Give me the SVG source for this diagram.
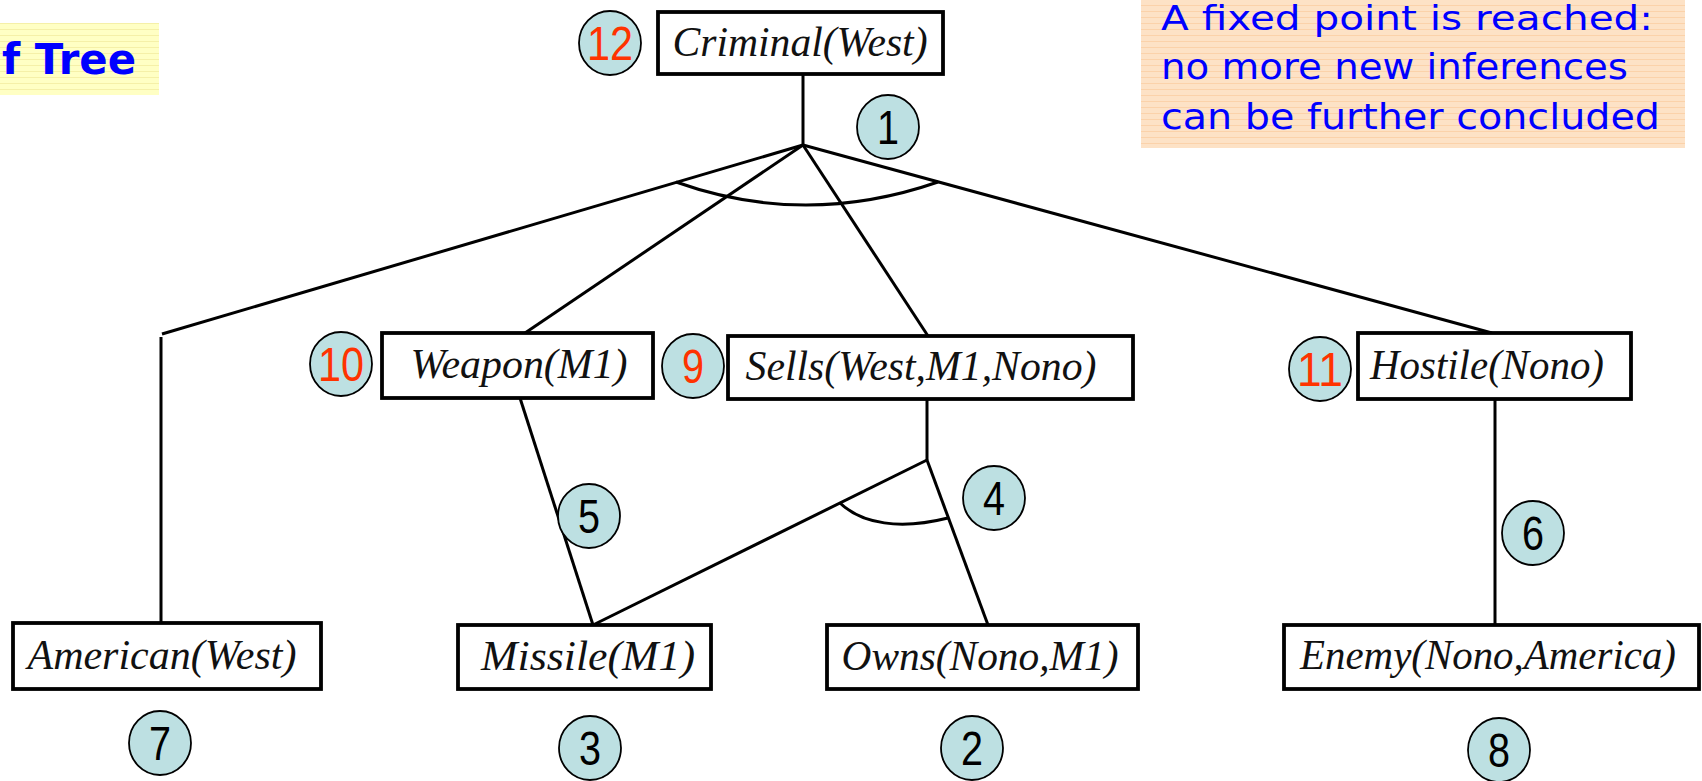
<svg xmlns="http://www.w3.org/2000/svg" width="1702" height="781" viewBox="0 0 1702 781">
<style>
.box{fill:#fff;stroke:#000;stroke-width:3.8}
.lbl{font-family:"Liberation Serif","Times New Roman",serif;font-style:italic;font-size:43px;fill:#111;text-anchor:middle}
.circ{fill:#bde0e2;stroke:#000;stroke-width:1.8}
.num{font-family:"Liberation Sans",Arial,sans-serif;font-size:48px;text-anchor:middle;fill:#000}
.red{fill:#ff3300}
.ln{stroke:#000;stroke-width:3;fill:none}
.note{font-family:"DejaVu Sans",sans-serif;fill:#0000ff}
</style>
<defs>
<pattern id="peach" width="6" height="6" patternUnits="userSpaceOnUse">
<rect width="6" height="6" fill="#fde2c6"/>
<line x1="0" y1="5.5" x2="6" y2="5.5" stroke="#fbd2aa" stroke-width="1"/>
</pattern>
<pattern id="yellow" width="6" height="6" patternUnits="userSpaceOnUse">
<rect width="6" height="6" fill="#ffffc4"/>
<line x1="0" y1="5.5" x2="6" y2="5.5" stroke="#f5f0a8" stroke-width="1"/>
</pattern>
</defs>
<rect width="1702" height="781" fill="#fff"/>

<g id="title">
<rect x="0" y="23" width="159" height="72" fill="url(#yellow)"/>
<text class="note" x="2" y="74" font-size="42" font-weight="bold" textLength="134" lengthAdjust="spacingAndGlyphs">f Tree</text>
</g>

<g id="note">
<rect x="1141" y="0" width="544" height="148" fill="url(#peach)"/>
<text class="note" x="1161" y="30" font-size="34" textLength="492" lengthAdjust="spacingAndGlyphs">A fixed point is reached:</text>
<text class="note" x="1161" y="79" font-size="36" textLength="467" lengthAdjust="spacingAndGlyphs">no more new inferences</text>
<text class="note" x="1161" y="129" font-size="36" textLength="499" lengthAdjust="spacingAndGlyphs">can be further concluded</text>
</g>

<g id="connectors">
<line class="ln" x1="803" y1="74" x2="803" y2="145" stroke-width="3.6"/>
<line class="ln" x1="803" y1="145" x2="162" y2="334"/>
<line class="ln" x1="161" y1="337" x2="161" y2="623" stroke-width="3.4"/>
<line class="ln" x1="803" y1="145" x2="525" y2="333"/>
<line class="ln" x1="803" y1="145" x2="928" y2="336"/>
<line class="ln" x1="803" y1="145" x2="1492" y2="333"/>
<path class="ln" d="M676,182 Q805,228 938,182"/>
<line class="ln" x1="520" y1="398" x2="593" y2="625"/>
<line class="ln" x1="927" y1="399" x2="927" y2="460" stroke-width="3.4"/>
<line class="ln" x1="927" y1="460" x2="593" y2="625"/>
<line class="ln" x1="927" y1="460" x2="988" y2="625"/>
<path class="ln" d="M840,503 C862,524 900,530 948,518"/>
<line class="ln" x1="1495" y1="399" x2="1495" y2="625" stroke-width="4.6"/>
</g>

<g id="criminal"><rect class="box" x="658" y="12" width="285" height="62"/><text class="lbl" x="800" y="56" textLength="255" lengthAdjust="spacingAndGlyphs">Criminal(West)</text></g>
<g id="weapon"><rect class="box" x="382" y="333" width="271" height="65"/><text class="lbl" x="519" y="378" textLength="217" lengthAdjust="spacingAndGlyphs">Weapon(M1)</text></g>
<g id="sells"><rect class="box" x="728" y="336" width="405" height="63"/><text class="lbl" x="921" y="380" textLength="351" lengthAdjust="spacingAndGlyphs">Sells(West,M1,Nono)</text></g>
<g id="hostile"><rect class="box" x="1358" y="333" width="273" height="66"/><text class="lbl" x="1487" y="379" textLength="234" lengthAdjust="spacingAndGlyphs">Hostile(Nono)</text></g>
<g id="american"><rect class="box" x="13" y="623" width="308" height="66"/><text class="lbl" x="162" y="669" textLength="269" lengthAdjust="spacingAndGlyphs">American(West)</text></g>
<g id="missile"><rect class="box" x="458" y="625" width="253" height="64"/><text class="lbl" x="588" y="670" textLength="214" lengthAdjust="spacingAndGlyphs">Missile(M1)</text></g>
<g id="owns"><rect class="box" x="827" y="625" width="311" height="64"/><text class="lbl" x="980" y="670" textLength="277" lengthAdjust="spacingAndGlyphs">Owns(Nono,M1)</text></g>
<g id="enemy"><rect class="box" x="1284" y="625" width="415" height="64"/><text class="lbl" x="1488" y="669" textLength="376" lengthAdjust="spacingAndGlyphs">Enemy(Nono,America)</text></g>

<g id="step12"><ellipse class="circ" cx="610" cy="43" rx="31" ry="32"/><text class="num red" x="610" y="60" textLength="46" lengthAdjust="spacingAndGlyphs">12</text></g>
<g id="step1"><ellipse class="circ" cx="888" cy="127" rx="31" ry="32"/><text class="num" x="888" y="144" textLength="22" lengthAdjust="spacingAndGlyphs">1</text></g>
<g id="step10"><ellipse class="circ" cx="341" cy="364" rx="31" ry="32"/><text class="num red" x="341" y="381" textLength="46" lengthAdjust="spacingAndGlyphs">10</text></g>
<g id="step9"><ellipse class="circ" cx="693" cy="366" rx="31" ry="32"/><text class="num red" x="693" y="383" textLength="22" lengthAdjust="spacingAndGlyphs">9</text></g>
<g id="step11"><ellipse class="circ" cx="1320" cy="369" rx="31" ry="32"/><text class="num red" x="1320" y="386" textLength="46" lengthAdjust="spacingAndGlyphs">11</text></g>
<g id="step5"><ellipse class="circ" cx="589" cy="516" rx="31" ry="32"/><text class="num" x="589" y="533" textLength="22" lengthAdjust="spacingAndGlyphs">5</text></g>
<g id="step4"><ellipse class="circ" cx="994" cy="498" rx="31" ry="32"/><text class="num" x="994" y="515" textLength="22" lengthAdjust="spacingAndGlyphs">4</text></g>
<g id="step6"><ellipse class="circ" cx="1533" cy="533" rx="31" ry="32"/><text class="num" x="1533" y="550" textLength="22" lengthAdjust="spacingAndGlyphs">6</text></g>
<g id="step7"><ellipse class="circ" cx="160" cy="743" rx="31" ry="32"/><text class="num" x="160" y="760" textLength="22" lengthAdjust="spacingAndGlyphs">7</text></g>
<g id="step3"><ellipse class="circ" cx="590" cy="748" rx="31" ry="32"/><text class="num" x="590" y="765" textLength="22" lengthAdjust="spacingAndGlyphs">3</text></g>
<g id="step2"><ellipse class="circ" cx="972" cy="748" rx="31" ry="32"/><text class="num" x="972" y="765" textLength="22" lengthAdjust="spacingAndGlyphs">2</text></g>
<g id="step8"><ellipse class="circ" cx="1499" cy="750" rx="31" ry="32"/><text class="num" x="1499" y="767" textLength="22" lengthAdjust="spacingAndGlyphs">8</text></g>
</svg>
